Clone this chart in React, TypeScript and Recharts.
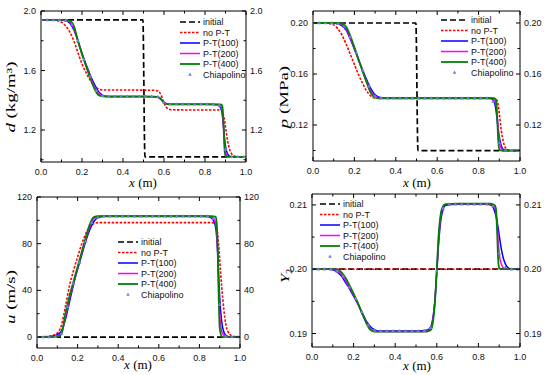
import React from "react";
import { ComposedChart, Line, XAxis, YAxis, Legend } from "recharts";

// sample positions (m) of the computed profiles
const xGrid = [
  0, 0.05, 0.08, 0.1, 0.12,
  0.14, 0.16, 0.18, 0.2, 0.22,
  0.24, 0.26, 0.28, 0.3, 0.32,
  0.34, 0.4, 0.5, 0.55, 0.57,
  0.58, 0.59, 0.6, 0.61, 0.62,
  0.63, 0.64, 0.7, 0.8, 0.84,
  0.86, 0.87, 0.88, 0.885, 0.89,
  0.895, 0.9, 0.91, 0.92, 0.93,
  0.94, 0.96, 1.0,
];
// Chiapolino reference points
const xChiap = [
  0, 0.03, 0.06, 0.09, 0.12,
  0.15, 0.18, 0.21, 0.24, 0.27,
  0.3, 0.33, 0.36, 0.39, 0.42,
  0.45, 0.48, 0.51, 0.54, 0.57,
  0.6, 0.63, 0.66, 0.69, 0.72,
  0.75, 0.78, 0.81, 0.84, 0.87,
  0.9, 0.93, 0.96, 0.99,
];
const xStep = [0, 0.497, 0.507, 1];
const xFlat = [0, 1];

const xTicks = [0, 0.1, 0.2, 0.3, 0.4, 0.5, 0.6, 0.7, 0.8, 0.9, 1.0];
const xMajors = [0, 0.2, 0.4, 0.6, 0.8, 1.0];

// density d (kg/m3)
const dInitial = [1.94, 1.94, 1.02, 1.02];
const dNoPT = [
  1.94, 1.94, 1.935, 1.925, 1.9,
  1.86, 1.8, 1.72, 1.645, 1.585,
  1.535, 1.495, 1.475, 1.47, 1.469,
  1.469, 1.469, 1.468, 1.467, 1.462,
  1.45, 1.42, 1.38, 1.355, 1.343,
  1.338, 1.336, 1.335, 1.335, 1.335,
  1.335, 1.335, 1.333, 1.322, 1.3,
  1.265, 1.22, 1.13, 1.07, 1.04,
  1.027, 1.02, 1.02,
];
const d100 = [
  1.94, 1.94, 1.94, 1.938, 1.935,
  1.92, 1.875, 1.8, 1.715, 1.64,
  1.57, 1.51, 1.46, 1.435, 1.427,
  1.425, 1.425, 1.425, 1.424, 1.42,
  1.413, 1.4, 1.387, 1.379, 1.375,
  1.373, 1.373, 1.373, 1.373, 1.372,
  1.369, 1.362, 1.335, 1.295, 1.225,
  1.15, 1.09, 1.04, 1.025, 1.02,
  1.02, 1.02, 1.02,
];
const d200 = [
  1.94, 1.94, 1.94, 1.94, 1.938,
  1.928, 1.888, 1.8, 1.712, 1.635,
  1.56, 1.495, 1.447, 1.43, 1.426,
  1.425, 1.425, 1.425, 1.424, 1.421,
  1.41, 1.398, 1.385, 1.377, 1.374,
  1.373, 1.373, 1.373, 1.373, 1.373,
  1.372, 1.368, 1.352, 1.32, 1.23,
  1.12, 1.05, 1.025, 1.02, 1.02,
  1.02, 1.02, 1.02,
];
const d400 = [
  1.94, 1.94, 1.94, 1.94, 1.94,
  1.935, 1.9, 1.8, 1.71, 1.63,
  1.55, 1.48, 1.435, 1.426, 1.425,
  1.425, 1.425, 1.425, 1.425, 1.423,
  1.415, 1.4, 1.383, 1.376, 1.374,
  1.373, 1.373, 1.373, 1.373, 1.373,
  1.373, 1.373, 1.371, 1.36, 1.25,
  1.08, 1.025, 1.02, 1.02, 1.02,
  1.02, 1.02, 1.02,
];
const dChiap = [
  1.94, 1.94, 1.94, 1.94, 1.937,
  1.91, 1.8, 1.675, 1.56, 1.465,
  1.43, 1.425, 1.425, 1.425, 1.425,
  1.425, 1.425, 1.425, 1.425, 1.423,
  1.386, 1.373, 1.373, 1.373, 1.373,
  1.373, 1.373, 1.373, 1.373, 1.366,
  1.07, 1.02, 1.02, 1.02,
];
const dTicks = [1.0, 1.2, 1.4, 1.6, 1.8, 2.0];
const dMajors = [1.2, 1.6, 2.0];

// pressure p (MPa)
const pInitial = [0.2, 0.2, 0.1, 0.1];
const pNoPT = [
  0.2, 0.2, 0.1995, 0.1985, 0.1955,
  0.1905, 0.1835, 0.1755, 0.1675, 0.1595,
  0.1525, 0.1465, 0.1427, 0.1413, 0.141,
  0.141, 0.141, 0.141, 0.141, 0.141,
  0.141, 0.141, 0.141, 0.141, 0.141,
  0.141, 0.141, 0.141, 0.141, 0.141,
  0.141, 0.141, 0.1408, 0.1402, 0.139,
  0.1355, 0.129, 0.1155, 0.1065, 0.102,
  0.1007, 0.1, 0.1,
];
const p100 = [
  0.2, 0.2, 0.2, 0.1998, 0.1993,
  0.198, 0.1945, 0.1875, 0.1795, 0.171,
  0.163, 0.1552, 0.1483, 0.1437, 0.1418,
  0.1412, 0.141, 0.141, 0.141, 0.141,
  0.141, 0.141, 0.141, 0.141, 0.141,
  0.141, 0.141, 0.141, 0.141, 0.141,
  0.1408, 0.1395, 0.1355, 0.1305, 0.1235,
  0.1162, 0.1105, 0.1035, 0.1008, 0.1002,
  0.1, 0.1, 0.1,
];
const p200 = [
  0.2, 0.2, 0.2, 0.2, 0.1997,
  0.1988, 0.1955, 0.1885, 0.1802, 0.1712,
  0.1622, 0.1535, 0.1463, 0.1425, 0.1413,
  0.141, 0.141, 0.141, 0.141, 0.141,
  0.141, 0.141, 0.141, 0.141, 0.141,
  0.141, 0.141, 0.141, 0.141, 0.141,
  0.141, 0.1405, 0.139, 0.1355, 0.127,
  0.1165, 0.108, 0.1015, 0.1002, 0.1,
  0.1, 0.1, 0.1,
];
const p400 = [
  0.2, 0.2, 0.2, 0.2, 0.2,
  0.1995, 0.197, 0.19, 0.181, 0.1715,
  0.162, 0.153, 0.145, 0.1415, 0.141,
  0.141, 0.141, 0.141, 0.141, 0.141,
  0.141, 0.141, 0.141, 0.141, 0.141,
  0.141, 0.141, 0.141, 0.141, 0.141,
  0.141, 0.141, 0.1408, 0.139, 0.125,
  0.108, 0.101, 0.1, 0.1, 0.1,
  0.1, 0.1, 0.1,
];
const pChiap = [
  0.2, 0.2, 0.2, 0.2, 0.1995,
  0.1972, 0.189, 0.1765, 0.163, 0.1505,
  0.1425, 0.141, 0.141, 0.141, 0.141,
  0.141, 0.141, 0.141, 0.141, 0.141,
  0.141, 0.141, 0.141, 0.141, 0.141,
  0.141, 0.141, 0.141, 0.141, 0.1385,
  0.106, 0.1, 0.1, 0.1,
];
const pTicks = [0.1, 0.12, 0.14, 0.16, 0.18, 0.2];
const pMajors = [0.12, 0.16, 0.2];

// velocity u (m/s)
const uInitial = [0, 0];
const uNoPT = [
  0, 0.5, 1.5, 3.5, 10,
  26, 44, 57, 68.5, 79.5,
  88.5, 94.5, 97.3, 98, 98,
  98, 98, 98, 98, 98,
  98, 98, 98, 98, 98,
  98, 98, 98, 98, 98,
  98, 97.8, 97, 94, 88,
  79, 66, 43, 24, 11,
  5, 1, 0,
];
const u100 = [
  0, 0.2, 0.8, 2, 5,
  15, 30, 45, 58, 70,
  82, 92, 99, 102.3, 103.3,
  103.5, 103.5, 103.5, 103.5, 103.5,
  103.5, 103.5, 103.5, 103.5, 103.5,
  103.5, 103.5, 103.5, 103.5, 103.2,
  101.8, 99.5, 94, 86, 72,
  53, 34, 13, 4.5, 1.5,
  0.5, 0, 0,
];
const u200 = [
  0, 0, 0.3, 1, 3,
  17, 33, 46.5, 59, 71.5,
  83.5, 94.5, 101.5, 103.2, 103.5,
  103.5, 103.5, 103.5, 103.5, 103.5,
  103.5, 103.5, 103.5, 103.5, 103.5,
  103.5, 103.5, 103.5, 103.5, 103.5,
  102.8, 101.5, 97.5, 91, 74,
  44, 20, 5, 1.5, 0.3,
  0, 0, 0,
];
const u400 = [
  0, 0, 0, 0.2, 2.5,
  20, 35, 47.5, 60, 72.5,
  85, 96.5, 102.8, 103.5, 103.5,
  103.5, 103.5, 103.5, 103.5, 103.5,
  103.5, 103.5, 103.5, 103.5, 103.5,
  103.5, 103.5, 103.5, 103.5, 103.5,
  103.5, 103.4, 103, 98, 76,
  35, 8, 0.5, 0, 0,
  0, 0, 0,
];
const uChiap = [
  0, 0, 0, 0.3, 3,
  26, 46, 64, 82, 98,
  102.5, 103.5, 103.5, 103.5, 103.5,
  103.5, 103.5, 103.5, 103.5, 103.5,
  103.5, 103.5, 103.5, 103.5, 103.5,
  103.5, 103.5, 103.5, 103.5, 101.5,
  28, 0.5, 0, 0,
];
const uTicks = [0, 20, 40, 60, 80, 100, 120];
const uMajors = [0, 40, 80, 120];

// mass fraction Y2
const yInitial = [0.2, 0.2];
const yNoPT = [0.2, 0.2];
const y100 = [
  0.2, 0.2, 0.2, 0.1999, 0.1996,
  0.199, 0.198, 0.197, 0.1958, 0.1946,
  0.1933, 0.192, 0.1911, 0.1906, 0.1904,
  0.1904, 0.1904, 0.1904, 0.1905, 0.191,
  0.1922, 0.1948, 0.1995, 0.2045, 0.2078,
  0.2093, 0.2099, 0.2101, 0.2101, 0.2101,
  0.21, 0.2097, 0.2088, 0.2082, 0.2074,
  0.2064, 0.2053, 0.2032, 0.2017, 0.2008,
  0.2003, 0.2, 0.2,
];
const y200 = [
  0.2, 0.2, 0.2, 0.2, 0.1998,
  0.1993, 0.1983, 0.1972, 0.196, 0.1947,
  0.1932, 0.1918, 0.1908, 0.1904, 0.1903,
  0.1903, 0.1903, 0.1903, 0.1904, 0.1907,
  0.1918, 0.1946, 0.1998, 0.2052, 0.2085,
  0.2097, 0.2101, 0.2102, 0.2102, 0.2102,
  0.2101, 0.21, 0.2095, 0.2088, 0.207,
  0.2045, 0.2025, 0.2008, 0.2002, 0.2,
  0.2, 0.2, 0.2,
];
const y400 = [
  0.2, 0.2, 0.2, 0.2, 0.2,
  0.1996, 0.1987, 0.1975, 0.1962, 0.1948,
  0.1932, 0.1917, 0.1906, 0.1903, 0.1903,
  0.1903, 0.1903, 0.1903, 0.1903, 0.1905,
  0.1915, 0.1944, 0.2, 0.2058, 0.2088,
  0.2098, 0.2101, 0.2102, 0.2102, 0.2102,
  0.2102, 0.2101, 0.2099, 0.2092, 0.2058,
  0.2015, 0.2002, 0.2, 0.2, 0.2,
  0.2, 0.2, 0.2,
];
const yChiap = [
  0.2, 0.2, 0.2, 0.2, 0.1997,
  0.1989, 0.1972, 0.1954, 0.1934, 0.1913,
  0.1905, 0.1904, 0.1904, 0.1904, 0.1904,
  0.1904, 0.1904, 0.1904, 0.1904, 0.1909,
  0.1997, 0.2095, 0.2101, 0.2101, 0.2101,
  0.2101, 0.2101, 0.2101, 0.2101, 0.2098,
  0.2025, 0.2003, 0.2, 0.2,
];
const yTicks = [0.19, 0.195, 0.2, 0.205, 0.21];
const yMajors = [0.19, 0.2, 0.21];

const seriesNames = ["initial", "no P-T", "P-T(100)", "P-T(200)", "P-T(400)", "Chiapolino"];

const STYLE: Record<string, any> = {
  initial: { color: "#000000", width: 1.7, dash: "6 3" },
  "no P-T": { color: "#ff0000", width: 1.6, dash: "2.5 1.5" },
  "P-T(100)": { color: "#0000ff", width: 1.5 },
  "P-T(200)": { color: "#ff00ff", width: 1.5 },
  "P-T(400)": { color: "#008000", width: 1.8 },
  Chiapolino: { color: "#7b7bd9", marker: true },
};

const toPoints = (xs: number[], ys: number[]) => xs.map((x, i) => ({ x, y: ys[i] }));

const tri = (cx: number, cy: number) =>
  `M${cx},${cy - 2} L${cx + 1.8},${cy + 1.3} L${cx - 1.8},${cy + 1.3} Z`;

const tickFont = { fontFamily: "Liberation Sans, Arial, sans-serif", fontSize: 9, fill: "#111" };

const makeTick = (side: string, majors: number[], fmt?: (v: number) => string) => (p: any) => {
  const { x, y, payload } = p;
  const v = payload.value;
  const major = majors.some((m) => Math.abs(m - v) < 1e-9);
  const len = major ? 4 : 2.5;
  const txt = major && fmt ? fmt(v) : null;
  const ls = { stroke: "#000", strokeWidth: 1 };
  if (side === "bottom")
    return (
      <g>
        <line x1={x} x2={x} y1={y} y2={y - len} {...ls} />
        {txt && <text x={x} y={y + 13} textAnchor="middle" {...tickFont}>{txt}</text>}
      </g>
    );
  if (side === "top")
    return (
      <g>
        <line x1={x} x2={x} y1={y} y2={y + len} {...ls} />
      </g>
    );
  if (side === "left")
    return (
      <g>
        <line x1={x} x2={x + len} y1={y} y2={y} {...ls} />
        {txt && <text x={x - 5} y={y + 3} textAnchor="end" {...tickFont}>{txt}</text>}
      </g>
    );
  return (
    <g>
      <line x1={x} x2={x - len} y1={y} y2={y} {...ls} />
      {txt && <text x={x + 4} y={y + 3} textAnchor="start" {...tickFont}>{txt}</text>}
    </g>
  );
};

function LegendBox({ len }: { len: number }) {
  return (
    <svg width={len + 50} height={64} style={{ display: "block", overflow: "visible" }}>
      {seriesNames.map((name, i) => {
        const s = STYLE[name];
        const y = 4 + i * 10.5;
        return (
          <g key={name}>
            {s.marker ? (
              <path d={tri(len / 2, y)} fill={s.color} />
            ) : (
              <line x1={0} x2={len} y1={y} y2={y} stroke={s.color} strokeWidth={s.width} strokeDasharray={s.dash} />
            )}
            <text x={len + 3} y={y + 3.2} {...tickFont}>{name}</text>
          </g>
        );
      })}
    </svg>
  );
}

const fx = (v: number) => v.toFixed(1);

function Panel(props: any) {
  const { left, top, w, h, box, yDomain, yTicksArr, yMajorsArr, fmt, curves, legend } = props;
  const [bl, br, bt, bb] = box;
  const ids = { xAxisId: "b", yAxisId: "l" };
  return (
    <div style={{ position: "absolute", left, top }}>
      <ComposedChart width={w} height={h} margin={{ top: 0, right: 0, bottom: 0, left: 0 }}>
        <XAxis xAxisId="b" orientation="bottom" type="number" dataKey="x" domain={[0, 1]} ticks={xTicks}
          interval={0} height={bb} tickSize={0} tickMargin={0} tickLine={false} axisLine={{ stroke: "#000" }}
          tick={makeTick("bottom", xMajors, fx)} allowDataOverflow />
        <XAxis xAxisId="t" orientation="top" type="number" dataKey="x" domain={[0, 1]} ticks={xTicks}
          interval={0} height={bt} tickSize={0} tickMargin={0} tickLine={false} axisLine={{ stroke: "#000" }}
          tick={makeTick("top", xMajors)} allowDataOverflow />
        <YAxis yAxisId="l" orientation="left" type="number" domain={yDomain} ticks={yTicksArr}
          interval={0} width={bl} tickSize={0} tickMargin={0} tickLine={false} axisLine={{ stroke: "#000" }}
          tick={makeTick("left", yMajorsArr, fmt)} allowDataOverflow />
        <YAxis yAxisId="r" orientation="right" type="number" domain={yDomain} ticks={yTicksArr}
          interval={0} width={br} tickSize={0} tickMargin={0} tickLine={false} axisLine={{ stroke: "#000" }}
          tick={makeTick("right", yMajorsArr, fmt)} allowDataOverflow />
        <Line xAxisId="t" yAxisId="r" data={toPoints(curves[0][1], curves[0][2])} dataKey="y"
          stroke="none" dot={false} activeDot={false} legendType="none" isAnimationActive={false} />
        {curves.map(([name, xs, ys]: any) => {
          const s = STYLE[name];
          if (s.marker)
            return (
              <Line key={name} {...ids} name={name} data={toPoints(xs, ys)} dataKey="y" stroke="none"
                isAnimationActive={false} activeDot={false}
                dot={(d: any) => <path key={`m${d.index}`} d={tri(d.cx, d.cy)} fill={s.color} />} />
            );
          return (
            <Line key={name} {...ids} name={name} data={toPoints(xs, ys)} dataKey="y" type="monotone"
              stroke={s.color} strokeWidth={s.width} strokeDasharray={s.dash} dot={false} activeDot={false}
              isAnimationActive={false} />
          );
        })}
        <Legend layout="vertical" align="center" verticalAlign="middle"
          wrapperStyle={{ left: legend.left, top: legend.top, width: legend.len + 50 }}
          content={() => <LegendBox len={legend.len} />} />
      </ComposedChart>
    </div>
  );
}

const serif = "Liberation Serif, Times New Roman, serif";

export default function App() {
  return (
    <div style={{ position: "absolute", left: 0, top: 0, width: 550, height: 375, background: "#fff" }}>
      <Panel left={0} top={0} w={275} h={190} box={[41, 29, 11, 28]} yDomain={[0.985, 2.0]}
        yTicksArr={dTicks} yMajorsArr={dMajors} fmt={(v: number) => v.toFixed(1)}
        legend={{ left: 180, top: 18, len: 20 }}
        curves={[
          ["initial", xStep, dInitial],
          ["no P-T", xGrid, dNoPT],
          ["P-T(100)", xGrid, d100],
          ["P-T(200)", xGrid, d200],
          ["P-T(400)", xGrid, d400],
          ["Chiapolino", xChiap, dChiap],
        ]} />
      <Panel left={275} top={0} w={275} h={190} box={[38, 30, 11, 29]} yDomain={[0.0918, 0.2094]}
        yTicksArr={pTicks} yMajorsArr={pMajors} fmt={(v: number) => v.toFixed(2)}
        legend={{ left: 166, top: 16, len: 27 }}
        curves={[
          ["initial", xStep, pInitial],
          ["no P-T", xGrid, pNoPT],
          ["P-T(100)", xGrid, p100],
          ["P-T(200)", xGrid, p200],
          ["P-T(400)", xGrid, p400],
          ["Chiapolino", xChiap, pChiap],
        ]} />
      <Panel left={0} top={190} w={275} h={185} box={[37, 35, 7, 27]} yDomain={[-9.4, 120]}
        yTicksArr={uTicks} yMajorsArr={uMajors} fmt={(v: number) => String(v)}
        legend={{ left: 118, top: 48, len: 20 }}
        curves={[
          ["initial", xFlat, uInitial],
          ["no P-T", xGrid, uNoPT],
          ["P-T(100)", xGrid, u100],
          ["P-T(200)", xGrid, u200],
          ["P-T(400)", xGrid, u400],
          ["Chiapolino", xChiap, uChiap],
        ]} />
      <Panel left={275} top={190} w={275} h={185} box={[37, 30, 4, 28]} yDomain={[0.1879, 0.2117]}
        yTicksArr={yTicks} yMajorsArr={yMajors} fmt={(v: number) => v.toFixed(2)}
        legend={{ left: 45, top: 10, len: 20 }}
        curves={[
          ["initial", xFlat, yInitial],
          ["no P-T", xFlat, yNoPT],
          ["P-T(100)", xGrid, y100],
          ["P-T(200)", xGrid, y200],
          ["P-T(400)", xGrid, y400],
          ["Chiapolino", xChiap, yChiap],
        ]} />
      <svg width={550} height={375} style={{ position: "absolute", left: 0, top: 0, pointerEvents: "none" }}
        fontFamily={serif} fontSize={13} fill="#000">
        <text x={143} y={187} textAnchor="middle"><tspan fontStyle="italic">x</tspan> (m)</text>
        <text x={417} y={187} textAnchor="middle"><tspan fontStyle="italic">x</tspan> (m)</text>
        <text x={138} y={369} textAnchor="middle"><tspan fontStyle="italic">x</tspan> (m)</text>
        <text x={417} y={370} textAnchor="middle"><tspan fontStyle="italic">x</tspan> (m)</text>
        <text transform="translate(15,97) rotate(-90) scale(1.45,1)" textAnchor="middle">
          <tspan fontStyle="italic">d</tspan> (kg/m³)
        </text>
        <text transform="translate(288,97) rotate(-90) scale(1.45,1)" textAnchor="middle">
          <tspan fontStyle="italic">p</tspan> (MPa)
        </text>
        <text transform="translate(15,297) rotate(-90) scale(1.45,1)" textAnchor="middle">
          <tspan fontStyle="italic">u</tspan> (m/s)
        </text>
        <text transform="translate(289,276) rotate(-90) scale(1.3,1)" textAnchor="middle">
          <tspan fontStyle="italic">Y</tspan><tspan fontSize={8} dy={3}>2</tspan>
        </text>
      </svg>
    </div>
  );
}
